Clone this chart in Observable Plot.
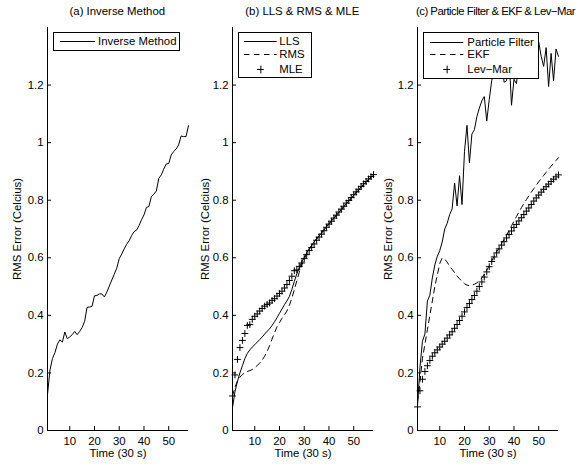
<!DOCTYPE html>
<html><head><meta charset="utf-8">
<script src="https://cdn.jsdelivr.net/npm/d3@7"></script>
<script src="https://cdn.jsdelivr.net/npm/@observablehq/plot@0.6"></script>
<style>
body{margin:0;background:#fff;}
#wrap{position:relative;width:577px;height:464px;font-family:"Liberation Sans",Arial,sans-serif;font-size:11.4px;color:#000;}
.title{position:absolute;top:5px;white-space:nowrap;text-align:center;}
.legend{position:absolute;border:1px solid #000;background:#fff;box-sizing:border-box;}
.row{position:absolute;left:0;white-space:nowrap;height:14px;line-height:14px;}
.row svg{position:absolute;top:0;}
.row span{position:absolute;top:0;}
</style></head>
<body><div id="wrap"></div>
<script>
// ---------- data ----------
const time = d3.range(1, 59); // 1..58 (units of 30 s)
const xTicks = [10, 20, 30, 40, 50];
const yTicks = [0, 0.2, 0.4, 0.6, 0.8, 1, 1.2];
const titles = ["(a) Inverse Method", "(b) LLS & RMS & MLE", "(c) Particle Filter & EKF & Lev\u2212Mar"];
const yLabel = "RMS Error (Celcius)";
const xLabel = "Time (30 s)";

const inverseMethod = [0.125,0.21,0.25,0.27,0.30,0.315,0.307,0.342,0.319,0.325,0.333,0.344,0.333,0.344,0.358,0.379,0.428,0.429,0.431,0.468,0.469,0.475,0.474,0.464,0.481,0.502,0.523,0.543,0.564,0.597,0.613,0.631,0.647,0.659,0.677,0.691,0.696,0.712,0.732,0.749,0.775,0.778,0.813,0.821,0.832,0.876,0.888,0.908,0.926,0.927,0.957,0.969,0.978,0.992,1.023,1.021,1.021,1.059];

const lls = [0.08,0.135,0.17,0.2,0.225,0.25,0.268,0.28,0.29,0.298,0.307,0.316,0.325,0.335,0.345,0.353,0.365,0.378,0.392,0.407,0.422,0.437,0.45,0.466,0.49,0.518,0.544,0.565,0.585,0.602,0.617,0.631,0.643,0.655,0.666,0.676,0.686,0.697,0.708,0.718,0.728,0.738,0.748,0.758,0.768,0.778,0.788,0.797,0.807,0.817,0.827,0.836,0.846,0.855,0.864,0.872,0.880,0.887];
const rms = [0.12,0.15,0.172,0.185,0.195,0.2,0.205,0.208,0.212,0.218,0.226,0.234,0.245,0.258,0.275,0.295,0.318,0.34,0.36,0.375,0.39,0.402,0.415,0.435,0.46,0.49,0.52,0.55,0.575,0.595,0.612,0.628,0.642,0.654,0.665,0.676,0.686,0.697,0.708,0.718,0.728,0.738,0.748,0.758,0.768,0.778,0.788,0.797,0.807,0.817,0.827,0.836,0.846,0.855,0.864,0.872,0.880,0.887];
const mle = [0.12,0.193,0.247,0.288,0.313,0.337,0.365,0.368,0.386,0.397,0.405,0.415,0.424,0.432,0.438,0.443,0.452,0.458,0.467,0.476,0.484,0.495,0.507,0.521,0.536,0.555,0.558,0.570,0.582,0.597,0.611,0.625,0.636,0.648,0.661,0.672,0.682,0.694,0.706,0.717,0.727,0.738,0.748,0.759,0.769,0.779,0.790,0.799,0.809,0.819,0.829,0.838,0.848,0.857,0.865,0.874,0.882,0.889];

const particleFilter = [0.085,0.22,0.31,0.335,0.45,0.47,0.53,0.575,0.605,0.625,0.655,0.7,0.72,0.75,0.77,0.86,0.78,0.885,0.785,0.97,1.06,0.93,1.03,1.045,1.09,1.12,1.145,1.16,1.075,1.15,1.215,1.25,1.27,1.24,1.29,1.21,1.215,1.3,1.13,1.22,1.205,1.28,1.32,1.29,1.34,1.3,1.33,1.36,1.32,1.35,1.3,1.265,1.33,1.195,1.31,1.215,1.325,1.3];
const ekf = [0.1,0.17,0.25,0.3,0.35,0.4,0.45,0.5,0.54,0.58,0.6,0.595,0.585,0.57,0.56,0.548,0.537,0.527,0.518,0.51,0.505,0.503,0.505,0.508,0.513,0.52,0.53,0.543,0.557,0.572,0.589,0.605,0.62,0.635,0.65,0.664,0.679,0.695,0.711,0.727,0.743,0.759,0.774,0.788,0.802,0.815,0.828,0.84,0.852,0.864,0.875,0.886,0.897,0.908,0.918,0.928,0.938,0.948];
const levMar = [0.082,0.138,0.178,0.205,0.225,0.243,0.258,0.27,0.28,0.29,0.3,0.31,0.321,0.332,0.343,0.355,0.368,0.382,0.397,0.412,0.427,0.441,0.455,0.469,0.484,0.5,0.516,0.533,0.551,0.569,0.587,0.603,0.617,0.631,0.644,0.656,0.669,0.681,0.693,0.705,0.716,0.728,0.739,0.75,0.762,0.773,0.785,0.797,0.808,0.818,0.828,0.838,0.847,0.856,0.865,0.873,0.881,0.888];

// ---------- drawing ----------
const wrap = document.getElementById("wrap");
const FONT = '"Liberation Sans", Arial, sans-serif';
const plusSymbol = {
  draw(ctx, size) {
    const r = Math.sqrt(size / Math.PI);
    ctx.moveTo(-r, 0); ctx.lineTo(r, 0);
    ctx.moveTo(0, -r); ctx.lineTo(0, r);
  }
};
const tbl = (ys) => time.map((t, i) => ({t, v: ys[i]}));
const fmt = (d) => String(d);

function panel(left, labelOffset, series) {
  const marks = [
    Plot.axisX({ticks: xTicks, tickFormat: fmt, tickSize: -4, tickPadding: 10, label: xLabel, labelAnchor: "center", labelOffset: 26, labelArrow: false}),
    Plot.axisY({ticks: yTicks, tickFormat: fmt, tickSize: -4, tickPadding: 8, label: yLabel, labelAnchor: "center", labelOffset, labelArrow: false}),
  ];
  for (const s of series) {
    if (s.type === "plus") {
      marks.push(Plot.dot(tbl(s.ys), {x: "t", y: "v", symbol: plusSymbol, r: 3.4, stroke: "#000", strokeWidth: 1, fill: "none"}));
    } else {
      marks.push(Plot.line(tbl(s.ys), {x: "t", y: "v", stroke: "#000", strokeWidth: 1, strokeDasharray: s.type === "dash" ? "5.5,4.5" : null}));
    }
  }
  marks.push(Plot.ruleX([1], {stroke: "#000"}), Plot.ruleY([0], {stroke: "#000"}));
  const svg = Plot.plot({
    width: 190, height: 464,
    marginLeft: 43, marginRight: 6, marginTop: 27, marginBottom: 34,
    x: {domain: [1, 58]},
    y: {domain: [0, 1.4]},
    style: {fontFamily: FONT, fontSize: "11.4px", background: "transparent", color: "#000", overflow: "visible"},
    marks
  });
  svg.style.position = "absolute";
  svg.style.left = (left - 43) + "px";
  svg.style.top = "0px";
  wrap.appendChild(svg);
}

function title(text, center, extra) {
  const d = document.createElement("div");
  d.className = "title";
  d.textContent = text;
  Object.assign(d.style, extra || {});
  wrap.appendChild(d);
  d.style.left = (center - d.offsetWidth / 2) + "px";
}

function legend(box, rows) {
  const d = document.createElement("div");
  d.className = "legend";
  Object.assign(d.style, {left: box.x + "px", top: box.y + "px", width: box.w + "px", height: box.h + "px"});
  rows.forEach((r, i) => {
    const row = document.createElement("div");
    row.className = "row";
    row.style.top = (box.rowY[i] - box.y - 8) + "px";
    row.style.width = "100%";
    const ns = "http://www.w3.org/2000/svg";
    const sv = document.createElementNS(ns, "svg");
    sv.setAttribute("width", box.lineW + 8); sv.setAttribute("height", 14);
    sv.style.left = (box.lineX - box.x - 1 - 4) + "px";
    if (r.type === "plus") {
      const c = box.lineW / 2 + 4;
      const p = document.createElementNS(ns, "path");
      p.setAttribute("d", `M${c - 3.4},7.5H${c + 3.4}M${c + 0.5},3.6V11.4`);
      p.setAttribute("stroke", "#000"); p.setAttribute("fill", "none");
      sv.appendChild(p);
    } else {
      const l = document.createElementNS(ns, "line");
      l.setAttribute("x1", 4); l.setAttribute("x2", 4 + box.lineW);
      l.setAttribute("y1", 7.5); l.setAttribute("y2", 7.5);
      l.setAttribute("stroke", "#000");
      if (r.type === "dash") l.setAttribute("stroke-dasharray", "5.5,4.5");
      sv.appendChild(l);
    }
    row.appendChild(sv);
    const sp = document.createElement("span");
    sp.textContent = r.name;
    sp.style.left = (box.textX - box.x - 1) + "px";
    row.appendChild(sp);
    d.appendChild(row);
  });
  wrap.appendChild(d);
}

panel(47, 35, [{type: "line", ys: inverseMethod}]);
panel(232, 32, [{type: "line", ys: lls}, {type: "dash", ys: rms}, {type: "plus", ys: mle}]);
panel(417, 34, [{type: "line", ys: particleFilter}, {type: "dash", ys: ekf}, {type: "plus", ys: levMar}]);

title(titles[0], 117.5);
title(titles[1], 302.3);
title(titles[2], 495.5, {letterSpacing: "-0.53px"});

legend({x: 52.5, y: 31.5, w: 127, h: 19, rowY: [41], lineX: 60, lineW: 35, textX: 98}, [{type: "line", name: "Inverse Method"}]);
legend({x: 237.5, y: 32, w: 74, h: 46, rowY: [40.7, 54.3, 69], lineX: 244.3, lineW: 32.7, textX: 279.3}, [{type: "line", name: "LLS"}, {type: "dash", name: "RMS"}, {type: "plus", name: "MLE"}]);
legend({x: 422.5, y: 32.3, w: 116, h: 46.5, rowY: [41.7, 54.3, 69.3], lineX: 430, lineW: 33.3, textX: 467.3}, [{type: "line", name: "Particle Filter"}, {type: "dash", name: "EKF"}, {type: "plus", name: "Lev\u2212Mar"}]);
</script></body></html>
